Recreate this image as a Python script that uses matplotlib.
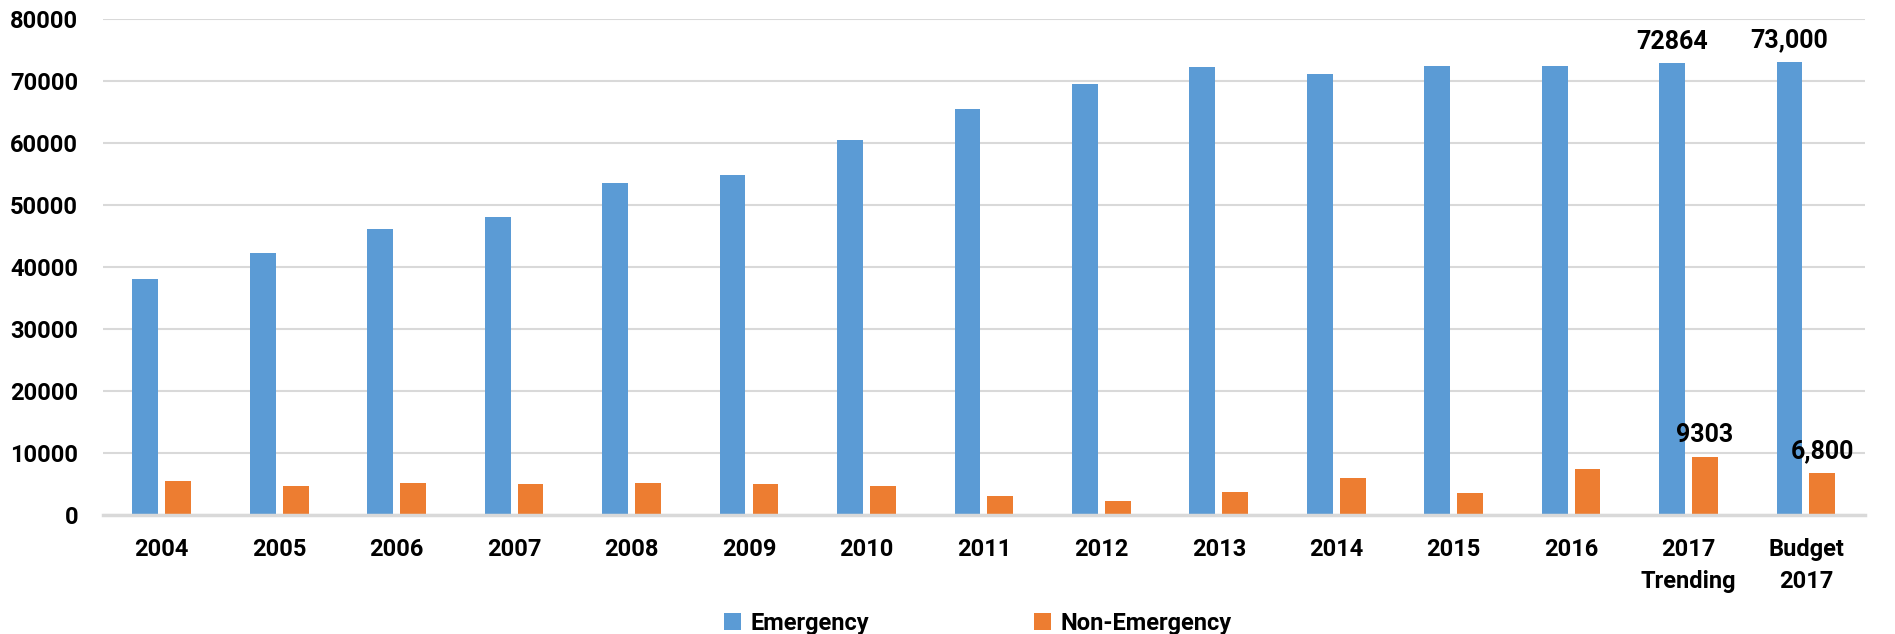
import numpy as np
import matplotlib
matplotlib.use("Agg")
import matplotlib.pyplot as plt

# dati
categorie = ["2004", "2005", "2006", "2007", "2008", "2009", "2010", "2011",
             "2012", "2013", "2014", "2015", "2016", "2017\nTrending", "Budget\n2017"]
emergency = [38000, 42300, 46100, 48100, 53600, 54900, 60400, 65500,
             69500, 72300, 71200, 72400, 72400, 72864, 73000]
non_emergency = [5500, 4600, 5100, 5000, 5150, 4950, 4700, 3100,
                 2200, 3600, 5900, 3550, 7350, 9303, 6800]
etichette_em = {13: "72864", 14: "73,000"}
etichette_ne = {13: "9303", 14: "6,800"}

plt.rcParams['font.family'] = ['Roboto', 'DejaVu Sans']
plt.rcParams['font.weight'] = 'bold'
fs = 17

blu = "#5B9BD5"
arancio = "#ED7D31"
griglia = "#D9D9D9"

fig = plt.figure(figsize=(18.95, 6.34), dpi=100)
ax = fig.add_axes([0.0544, 0.188, 0.9296, 0.782])

x = np.arange(len(categorie))
w = 0.22
off = 0.14
b1 = ax.bar(x - off, emergency, w, color=blu, label="Emergency", zorder=3)
b2 = ax.bar(x + off, non_emergency, w, color=arancio, label="Non-Emergency", zorder=3)

for i, t in etichette_em.items():
    ax.annotate(t, (x[i] - off, emergency[i]), xytext=(0, 7), textcoords="offset points",
                ha="center", va="bottom", fontsize=fs + 1, fontweight="bold")
for i, t in etichette_ne.items():
    ax.annotate(t, (x[i] + off, non_emergency[i]), xytext=(0, 7), textcoords="offset points",
                ha="center", va="bottom", fontsize=fs + 1, fontweight="bold")

ax.set_xlim(-0.5, len(categorie) - 0.5)
ax.set_ylim(0, 80000)
ax.set_yticks(np.arange(0, 80001, 10000))
ax.set_yticklabels([str(v) for v in range(0, 80001, 10000)], fontsize=fs, fontweight="bold")
ax.set_xticks(x)
ax.set_xticklabels(categorie, fontsize=fs, fontweight="bold", linespacing=1.5)
ax.tick_params(length=0, pad=17)
ax.tick_params(axis="y", pad=18)

ax.grid(axis="y", color=griglia, linewidth=1.5, zorder=0)
for s in ["top", "right", "left"]:
    ax.spines[s].set_visible(False)
ax.spines["bottom"].set_color(griglia)
ax.spines["bottom"].set_linewidth(2.5)
ax.spines["bottom"].set_zorder(4)

fig.legend(handles=[b1, b2], loc="lower center", bbox_to_anchor=(0.516, -0.035), ncol=2,
           frameon=False, handlelength=0.7, handleheight=0.7,
           handletextpad=0.4, columnspacing=7.0, prop={'weight': 'bold', 'size': fs})

fig.savefig("out.png", dpi=100)
